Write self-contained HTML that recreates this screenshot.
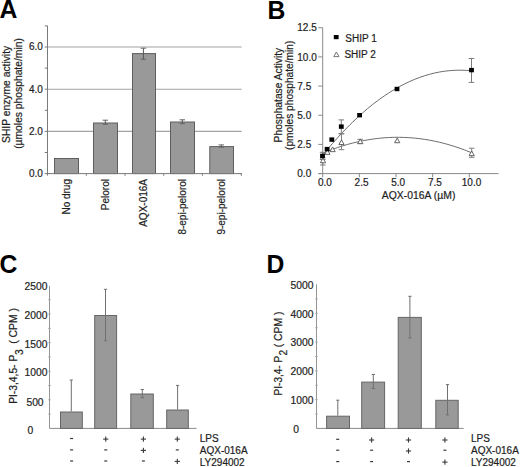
<!DOCTYPE html>
<html><head><meta charset="utf-8"><style>
html,body{margin:0;padding:0;background:#fff;width:520px;height:467px;overflow:hidden}
svg{display:block;font-family:"Liberation Sans", sans-serif}
text{stroke:#1e1e1e;stroke-width:0.2px;paint-order:stroke}
text[font-weight=bold]{stroke:none}
</style></head><body>
<svg width="520" height="467" viewBox="0 0 520 467">
<rect width="520" height="467" fill="#fff"/>
<text transform="translate(-0.4,17.8) scale(0.97,1)" font-size="25.5" font-weight="bold" fill="#000">A</text>
<text transform="translate(267.45,18.5) scale(0.97,1)" font-size="25.5" font-weight="bold" fill="#000">B</text>
<text transform="translate(-0.56,272.95) scale(0.97,1)" font-size="25.5" font-weight="bold" fill="#000">C</text>
<text transform="translate(266.55,272.7) scale(0.97,1)" font-size="25.5" font-weight="bold" fill="#000">D</text>
<line x1="47.50" y1="131.40" x2="241.60" y2="131.40" stroke="#a2a2a2" stroke-width="1.1"/>
<line x1="47.50" y1="89.20" x2="241.60" y2="89.20" stroke="#a2a2a2" stroke-width="1.1"/>
<line x1="47.50" y1="47.00" x2="241.60" y2="47.00" stroke="#a2a2a2" stroke-width="1.1"/>
<rect x="54.50" y="158.50" width="24.00" height="15.10" fill="#999999" stroke="#5e5e5e" stroke-width="1"/>
<rect x="93.50" y="123.00" width="24.00" height="50.60" fill="#999999" stroke="#5e5e5e" stroke-width="1"/>
<rect x="132.50" y="53.60" width="23.00" height="120.00" fill="#999999" stroke="#5e5e5e" stroke-width="1"/>
<rect x="170.50" y="122.00" width="24.00" height="51.60" fill="#999999" stroke="#5e5e5e" stroke-width="1"/>
<rect x="209.80" y="146.60" width="23.70" height="27.00" fill="#999999" stroke="#5e5e5e" stroke-width="1"/>
<line x1="105.30" y1="120.20" x2="105.30" y2="124.30" stroke="#555" stroke-width="1"/>
<line x1="102.60" y1="120.20" x2="108.00" y2="120.20" stroke="#666" stroke-width="1"/>
<line x1="102.60" y1="124.30" x2="108.00" y2="124.30" stroke="#666" stroke-width="1"/>
<line x1="143.40" y1="48.20" x2="143.40" y2="59.20" stroke="#555" stroke-width="1"/>
<line x1="140.70" y1="48.20" x2="146.10" y2="48.20" stroke="#666" stroke-width="1"/>
<line x1="140.70" y1="59.20" x2="146.10" y2="59.20" stroke="#666" stroke-width="1"/>
<line x1="182.30" y1="119.80" x2="182.30" y2="123.70" stroke="#555" stroke-width="1"/>
<line x1="179.60" y1="119.80" x2="185.00" y2="119.80" stroke="#666" stroke-width="1"/>
<line x1="179.60" y1="123.70" x2="185.00" y2="123.70" stroke="#666" stroke-width="1"/>
<line x1="221.30" y1="144.90" x2="221.30" y2="147.20" stroke="#555" stroke-width="1"/>
<line x1="218.60" y1="144.90" x2="224.00" y2="144.90" stroke="#666" stroke-width="1"/>
<line x1="218.60" y1="147.20" x2="224.00" y2="147.20" stroke="#666" stroke-width="1"/>
<line x1="47.50" y1="25.70" x2="47.50" y2="175.60" stroke="#7a7a7a" stroke-width="1"/>
<line x1="47.50" y1="173.60" x2="242.00" y2="173.60" stroke="#7a7a7a" stroke-width="1"/>
<line x1="44.70" y1="173.60" x2="47.50" y2="173.60" stroke="#7a7a7a" stroke-width="1"/>
<line x1="44.70" y1="152.50" x2="47.50" y2="152.50" stroke="#7a7a7a" stroke-width="1"/>
<line x1="44.70" y1="131.40" x2="47.50" y2="131.40" stroke="#7a7a7a" stroke-width="1"/>
<line x1="44.70" y1="110.30" x2="47.50" y2="110.30" stroke="#7a7a7a" stroke-width="1"/>
<line x1="44.70" y1="89.20" x2="47.50" y2="89.20" stroke="#7a7a7a" stroke-width="1"/>
<line x1="44.70" y1="68.10" x2="47.50" y2="68.10" stroke="#7a7a7a" stroke-width="1"/>
<line x1="44.70" y1="47.00" x2="47.50" y2="47.00" stroke="#7a7a7a" stroke-width="1"/>
<line x1="44.70" y1="25.90" x2="47.50" y2="25.90" stroke="#7a7a7a" stroke-width="1"/>
<line x1="86.30" y1="173.60" x2="86.30" y2="175.80" stroke="#7a7a7a" stroke-width="1"/>
<line x1="125.00" y1="173.60" x2="125.00" y2="175.80" stroke="#7a7a7a" stroke-width="1"/>
<line x1="163.70" y1="173.60" x2="163.70" y2="175.80" stroke="#7a7a7a" stroke-width="1"/>
<line x1="202.40" y1="173.60" x2="202.40" y2="175.80" stroke="#7a7a7a" stroke-width="1"/>
<line x1="241.30" y1="173.60" x2="241.30" y2="175.80" stroke="#7a7a7a" stroke-width="1"/>
<text x="42.90" y="177.00" font-size="10.0" text-anchor="end" font-weight="normal" fill="#1e1e1e" >0.0</text>
<text x="42.90" y="134.80" font-size="10.0" text-anchor="end" font-weight="normal" fill="#1e1e1e" >2.0</text>
<text x="42.90" y="92.60" font-size="10.0" text-anchor="end" font-weight="normal" fill="#1e1e1e" >4.0</text>
<text x="42.90" y="50.40" font-size="10.0" text-anchor="end" font-weight="normal" fill="#1e1e1e" >6.0</text>
<text transform="translate(9.70,94.40) rotate(-90)" x="0" y="0" font-size="10.3" text-anchor="middle" fill="#1e1e1e">SHIP enzyme activity</text>
<text transform="translate(22.30,93.50) rotate(-90)" x="0" y="0" font-size="10.3" text-anchor="middle" fill="#1e1e1e">(µmoles phosphate/min)</text>
<text transform="translate(69.90,179.00) rotate(-90)" x="0" y="0" font-size="10.0" text-anchor="end" fill="#1e1e1e">No drug</text>
<text transform="translate(108.90,179.00) rotate(-90)" x="0" y="0" font-size="10.0" text-anchor="end" fill="#1e1e1e">Pelorol</text>
<text transform="translate(147.40,179.00) rotate(-90)" x="0" y="0" font-size="10.0" text-anchor="end" fill="#1e1e1e">AQX-016A</text>
<text transform="translate(185.90,179.00) rotate(-90)" x="0" y="0" font-size="10.0" text-anchor="end" fill="#1e1e1e">8-epi-pelorol</text>
<text transform="translate(224.90,179.00) rotate(-90)" x="0" y="0" font-size="10.0" text-anchor="end" fill="#1e1e1e">9-epi-pelorol</text>
<line x1="322.70" y1="27.70" x2="322.70" y2="173.60" stroke="#8a8a8a" stroke-width="1"/>
<line x1="318.30" y1="173.60" x2="498.50" y2="173.60" stroke="#8a8a8a" stroke-width="1"/>
<line x1="318.30" y1="173.60" x2="322.70" y2="173.60" stroke="#8a8a8a" stroke-width="1"/>
<line x1="318.30" y1="144.42" x2="322.70" y2="144.42" stroke="#8a8a8a" stroke-width="1"/>
<line x1="318.30" y1="115.25" x2="322.70" y2="115.25" stroke="#8a8a8a" stroke-width="1"/>
<line x1="318.30" y1="86.07" x2="322.70" y2="86.07" stroke="#8a8a8a" stroke-width="1"/>
<line x1="318.30" y1="56.90" x2="322.70" y2="56.90" stroke="#8a8a8a" stroke-width="1"/>
<line x1="318.30" y1="27.72" x2="322.70" y2="27.72" stroke="#8a8a8a" stroke-width="1"/>
<line x1="322.70" y1="173.60" x2="322.70" y2="177.30" stroke="#8a8a8a" stroke-width="1"/>
<line x1="359.35" y1="173.60" x2="359.35" y2="177.30" stroke="#8a8a8a" stroke-width="1"/>
<line x1="396.00" y1="173.60" x2="396.00" y2="177.30" stroke="#8a8a8a" stroke-width="1"/>
<line x1="432.65" y1="173.60" x2="432.65" y2="177.30" stroke="#8a8a8a" stroke-width="1"/>
<line x1="469.30" y1="173.60" x2="469.30" y2="177.30" stroke="#8a8a8a" stroke-width="1"/>
<text x="297.30" y="177.20" font-size="10.0" text-anchor="start" font-weight="normal" fill="#1e1e1e" >0.0</text>
<text x="297.30" y="148.02" font-size="10.0" text-anchor="start" font-weight="normal" fill="#1e1e1e" >2.5</text>
<text x="297.30" y="118.85" font-size="10.0" text-anchor="start" font-weight="normal" fill="#1e1e1e" >5.0</text>
<text x="297.30" y="89.67" font-size="10.0" text-anchor="start" font-weight="normal" fill="#1e1e1e" >7.5</text>
<text x="297.30" y="60.50" font-size="10.0" text-anchor="start" font-weight="normal" fill="#1e1e1e" >10.0</text>
<text x="297.30" y="31.32" font-size="10.0" text-anchor="start" font-weight="normal" fill="#1e1e1e" >12.5</text>
<text x="324.90" y="185.90" font-size="10.0" text-anchor="middle" font-weight="normal" fill="#1e1e1e" >0.0</text>
<text x="361.55" y="185.90" font-size="10.0" text-anchor="middle" font-weight="normal" fill="#1e1e1e" >2.5</text>
<text x="398.20" y="185.90" font-size="10.0" text-anchor="middle" font-weight="normal" fill="#1e1e1e" >5.0</text>
<text x="434.85" y="185.90" font-size="10.0" text-anchor="middle" font-weight="normal" fill="#1e1e1e" >7.5</text>
<text x="471.50" y="185.90" font-size="10.0" text-anchor="middle" font-weight="normal" fill="#1e1e1e" >10.0</text>
<text x="418.60" y="198.70" font-size="10.4" text-anchor="middle" font-weight="normal" fill="#1e1e1e" >AQX-016A (µM)</text>
<text transform="translate(282.00,95.10) rotate(-90)" x="0" y="0" font-size="10.25" text-anchor="middle" fill="#1e1e1e">Phosphatase Activity</text>
<text transform="translate(292.70,95.30) rotate(-90)" x="0" y="0" font-size="10.2" text-anchor="middle" fill="#1e1e1e">(pmoles phosphate/min)</text>
<polyline points="322.70,155.27 325.18,152.21 327.67,149.21 330.15,146.26 332.63,143.37 335.12,140.53 337.60,137.75 340.08,135.03 342.57,132.36 345.05,129.75 347.53,127.20 350.02,124.70 352.50,122.26 354.98,119.87 357.47,117.54 359.95,115.26 362.43,113.05 364.92,110.88 367.40,108.78 369.88,106.72 372.37,104.73 374.85,102.79 377.33,100.91 379.82,99.08 382.30,97.31 384.78,95.60 387.27,93.94 389.75,92.33 392.23,90.79 394.72,89.30 397.20,87.86 399.68,86.48 402.17,85.16 404.65,83.90 407.13,82.68 409.62,81.53 412.10,80.43 414.58,79.39 417.07,78.40 419.55,77.47 422.03,76.60 424.52,75.78 427.00,75.02 429.48,74.31 431.97,73.66 434.45,73.07 436.93,72.53 439.42,72.04 441.90,71.62 444.38,71.25 446.87,70.93 449.35,70.68 451.83,70.47 454.32,70.33 456.80,70.24 459.28,70.20 461.77,70.22 464.25,70.30 466.73,70.44 469.22,70.63 471.70,70.87" fill="none" stroke="#6a6a6a" stroke-width="1"/>
<polyline points="322.70,153.26 325.18,152.23 327.67,151.22 330.15,150.25 332.63,149.32 335.12,148.42 337.60,147.56 340.08,146.73 342.57,145.93 345.05,145.17 347.53,144.45 350.02,143.76 352.50,143.11 354.98,142.49 357.47,141.90 359.95,141.35 362.43,140.84 364.92,140.36 367.40,139.91 369.88,139.50 372.37,139.13 374.85,138.79 377.33,138.49 379.82,138.22 382.30,137.98 384.78,137.78 387.27,137.62 389.75,137.49 392.23,137.39 394.72,137.33 397.20,137.31 399.68,137.32 402.17,137.36 404.65,137.44 407.13,137.56 409.62,137.71 412.10,137.89 414.58,138.11 417.07,138.37 419.55,138.66 422.03,138.98 424.52,139.34 427.00,139.74 429.48,140.17 431.97,140.63 434.45,141.13 436.93,141.67 439.42,142.23 441.90,142.84 444.38,143.48 446.87,144.15 449.35,144.86 451.83,145.61 454.32,146.39 456.80,147.20 459.28,148.05 461.77,148.93 464.25,149.85 466.73,150.81 469.22,151.80 471.70,152.82" fill="none" stroke="#6a6a6a" stroke-width="1"/>
<line x1="471.50" y1="58.50" x2="471.50" y2="82.40" stroke="#7a7a7a" stroke-width="1"/>
<line x1="468.70" y1="58.50" x2="474.30" y2="58.50" stroke="#7a7a7a" stroke-width="1"/>
<line x1="468.70" y1="82.40" x2="474.30" y2="82.40" stroke="#7a7a7a" stroke-width="1"/>
<line x1="341.30" y1="119.90" x2="341.30" y2="133.60" stroke="#7a7a7a" stroke-width="1"/>
<line x1="338.50" y1="119.90" x2="344.10" y2="119.90" stroke="#7a7a7a" stroke-width="1"/>
<line x1="338.50" y1="133.60" x2="344.10" y2="133.60" stroke="#7a7a7a" stroke-width="1"/>
<line x1="322.60" y1="152.30" x2="322.60" y2="159.50" stroke="#7a7a7a" stroke-width="1"/>
<line x1="319.80" y1="152.30" x2="325.40" y2="152.30" stroke="#7a7a7a" stroke-width="1"/>
<line x1="319.80" y1="159.50" x2="325.40" y2="159.50" stroke="#7a7a7a" stroke-width="1"/>
<line x1="341.50" y1="133.90" x2="341.50" y2="149.70" stroke="#808080" stroke-width="1"/>
<line x1="338.70" y1="133.90" x2="344.30" y2="133.90" stroke="#808080" stroke-width="1"/>
<line x1="338.70" y1="149.70" x2="344.30" y2="149.70" stroke="#808080" stroke-width="1"/>
<line x1="471.70" y1="148.20" x2="471.70" y2="157.30" stroke="#808080" stroke-width="1"/>
<line x1="468.90" y1="148.20" x2="474.50" y2="148.20" stroke="#808080" stroke-width="1"/>
<line x1="468.90" y1="157.30" x2="474.50" y2="157.30" stroke="#808080" stroke-width="1"/>
<line x1="322.80" y1="158.00" x2="322.80" y2="165.00" stroke="#808080" stroke-width="1"/>
<line x1="320.00" y1="158.00" x2="325.60" y2="158.00" stroke="#808080" stroke-width="1"/>
<line x1="320.00" y1="165.00" x2="325.60" y2="165.00" stroke="#808080" stroke-width="1"/>
<line x1="360.20" y1="139.30" x2="360.20" y2="143.60" stroke="#808080" stroke-width="1"/>
<line x1="357.40" y1="139.30" x2="363.00" y2="139.30" stroke="#808080" stroke-width="1"/>
<line x1="357.40" y1="143.60" x2="363.00" y2="143.60" stroke="#808080" stroke-width="1"/>
<polygon points="320.40,162.74 325.60,162.74 323.00,158.06" fill="#fff" stroke="#555" stroke-width="0.9"/>
<polygon points="324.80,154.34 330.00,154.34 327.40,149.66" fill="#fff" stroke="#555" stroke-width="0.9"/>
<polygon points="330.00,151.64 335.20,151.64 332.60,146.96" fill="#fff" stroke="#555" stroke-width="0.9"/>
<polygon points="338.90,144.54 344.10,144.54 341.50,139.86" fill="#fff" stroke="#555" stroke-width="0.9"/>
<polygon points="357.60,143.64 362.80,143.64 360.20,138.96" fill="#fff" stroke="#555" stroke-width="0.9"/>
<polygon points="394.60,142.74 399.80,142.74 397.20,138.06" fill="#fff" stroke="#555" stroke-width="0.9"/>
<polygon points="469.10,155.64 474.30,155.64 471.70,150.96" fill="#fff" stroke="#555" stroke-width="0.9"/>
<rect x="320.10" y="153.70" width="4.8" height="4.4" fill="#000"/>
<rect x="324.70" y="146.90" width="4.8" height="4.4" fill="#000"/>
<rect x="329.40" y="137.40" width="4.8" height="4.4" fill="#000"/>
<rect x="338.90" y="124.40" width="4.8" height="4.4" fill="#000"/>
<rect x="357.20" y="113.00" width="4.8" height="4.4" fill="#000"/>
<rect x="394.60" y="86.80" width="4.8" height="4.4" fill="#000"/>
<rect x="469.10" y="67.90" width="4.8" height="4.4" fill="#000"/>
<rect x="333.8" y="35.0" width="4.8" height="4.2" fill="#000"/>
<polygon points="333.80,56.64 339.00,56.64 336.40,51.96" fill="#fff" stroke="#666" stroke-width="0.9"/>
<text x="345.30" y="42.00" font-size="10.0" text-anchor="start" font-weight="normal" fill="#1e1e1e" >SHIP 1</text>
<text x="344.40" y="58.40" font-size="10.0" text-anchor="start" font-weight="normal" fill="#1e1e1e" >SHIP 2</text>
<line x1="49.50" y1="286.00" x2="49.50" y2="428.40" stroke="#959595" stroke-width="1"/>
<line x1="48.30" y1="414.11" x2="50.70" y2="414.11" stroke="#a0a0a0" stroke-width="1"/>
<line x1="48.30" y1="399.82" x2="50.70" y2="399.82" stroke="#a0a0a0" stroke-width="1"/>
<line x1="48.30" y1="385.53" x2="50.70" y2="385.53" stroke="#a0a0a0" stroke-width="1"/>
<line x1="48.30" y1="371.24" x2="50.70" y2="371.24" stroke="#a0a0a0" stroke-width="1"/>
<line x1="48.30" y1="356.95" x2="50.70" y2="356.95" stroke="#a0a0a0" stroke-width="1"/>
<line x1="48.30" y1="342.66" x2="50.70" y2="342.66" stroke="#a0a0a0" stroke-width="1"/>
<line x1="48.30" y1="328.37" x2="50.70" y2="328.37" stroke="#a0a0a0" stroke-width="1"/>
<line x1="48.30" y1="314.08" x2="50.70" y2="314.08" stroke="#a0a0a0" stroke-width="1"/>
<line x1="48.30" y1="299.79" x2="50.70" y2="299.79" stroke="#a0a0a0" stroke-width="1"/>
<line x1="49.50" y1="428.40" x2="196.50" y2="428.40" stroke="#8a8a8a" stroke-width="1"/>
<rect x="60.50" y="412.00" width="21.80" height="16.40" fill="#999999" stroke="#666" stroke-width="1"/>
<rect x="94.70" y="315.50" width="21.90" height="112.90" fill="#999999" stroke="#666" stroke-width="1"/>
<rect x="130.80" y="394.00" width="22.50" height="34.40" fill="#999999" stroke="#666" stroke-width="1"/>
<rect x="166.70" y="410.00" width="21.60" height="18.40" fill="#999999" stroke="#666" stroke-width="1"/>
<line x1="71.30" y1="380.00" x2="71.30" y2="411.50" stroke="#707070" stroke-width="1"/>
<line x1="69.70" y1="380.00" x2="72.90" y2="380.00" stroke="#707070" stroke-width="1"/>
<line x1="105.50" y1="289.30" x2="105.50" y2="340.70" stroke="#707070" stroke-width="1"/>
<line x1="103.90" y1="289.30" x2="107.10" y2="289.30" stroke="#707070" stroke-width="1"/>
<line x1="103.90" y1="340.70" x2="107.10" y2="340.70" stroke="#707070" stroke-width="1"/>
<line x1="142.30" y1="389.50" x2="142.30" y2="397.70" stroke="#707070" stroke-width="1"/>
<line x1="140.70" y1="389.50" x2="143.90" y2="389.50" stroke="#707070" stroke-width="1"/>
<line x1="140.70" y1="397.70" x2="143.90" y2="397.70" stroke="#707070" stroke-width="1"/>
<line x1="177.60" y1="385.40" x2="177.60" y2="409.50" stroke="#707070" stroke-width="1"/>
<line x1="176.00" y1="385.40" x2="179.20" y2="385.40" stroke="#707070" stroke-width="1"/>
<text x="47.40" y="289.50" font-size="10.3" text-anchor="end" font-weight="normal" fill="#1e1e1e" >2500</text>
<text x="47.40" y="318.60" font-size="10.3" text-anchor="end" font-weight="normal" fill="#1e1e1e" >2000</text>
<text x="47.40" y="348.20" font-size="10.3" text-anchor="end" font-weight="normal" fill="#1e1e1e" >1500</text>
<text x="47.40" y="376.10" font-size="10.3" text-anchor="end" font-weight="normal" fill="#1e1e1e" >1000</text>
<text x="43.60" y="405.80" font-size="10.3" text-anchor="end" font-weight="normal" fill="#1e1e1e" >500</text>
<text x="33.30" y="434.00" font-size="10.3" text-anchor="end" font-weight="normal" fill="#1e1e1e" >0</text>
<text transform="translate(17.20,403.84) rotate(-90)" x="0" y="0" font-size="10.27" text-anchor="start" fill="#1e1e1e">PI-3,4,5- P</text>
<text transform="translate(22.90,355.10) rotate(-90)" x="0" y="0" font-size="10.3" text-anchor="start" fill="#1e1e1e">3</text>
<text transform="translate(17.20,343.85) rotate(-90)" x="0" y="0" font-size="10.4" text-anchor="start" fill="#1e1e1e">( CPM )</text>
<rect x="70.10" y="437.90" width="3.0" height="1.2" fill="#3a3a3a"/>
<rect x="103.15" y="438.55" width="5.2" height="1.1" fill="#3a3a3a"/>
<rect x="105.20" y="436.50" width="1.1" height="5.2" fill="#3a3a3a"/>
<rect x="140.80" y="438.55" width="5.2" height="1.1" fill="#3a3a3a"/>
<rect x="142.85" y="436.50" width="1.1" height="5.2" fill="#3a3a3a"/>
<rect x="174.70" y="438.55" width="5.2" height="1.1" fill="#3a3a3a"/>
<rect x="176.75" y="436.50" width="1.1" height="5.2" fill="#3a3a3a"/>
<rect x="70.10" y="449.30" width="3.0" height="1.2" fill="#3a3a3a"/>
<rect x="104.25" y="449.30" width="3.0" height="1.2" fill="#3a3a3a"/>
<rect x="140.80" y="449.85" width="5.2" height="1.1" fill="#3a3a3a"/>
<rect x="142.85" y="447.80" width="1.1" height="5.2" fill="#3a3a3a"/>
<rect x="175.80" y="449.30" width="3.0" height="1.2" fill="#3a3a3a"/>
<rect x="70.10" y="460.40" width="3.0" height="1.2" fill="#3a3a3a"/>
<rect x="104.25" y="460.40" width="3.0" height="1.2" fill="#3a3a3a"/>
<rect x="141.90" y="460.40" width="3.0" height="1.2" fill="#3a3a3a"/>
<rect x="174.70" y="460.85" width="5.2" height="1.1" fill="#3a3a3a"/>
<rect x="176.75" y="458.80" width="1.1" height="5.2" fill="#3a3a3a"/>
<text x="199.80" y="441.70" font-size="10" text-anchor="start" font-weight="normal" fill="#1e1e1e" >LPS</text>
<text x="199.80" y="453.60" font-size="10" text-anchor="start" font-weight="normal" fill="#1e1e1e" >AQX-016A</text>
<text x="199.80" y="465.80" font-size="10" text-anchor="start" font-weight="normal" fill="#1e1e1e" >LY294002</text>
<line x1="316.50" y1="284.30" x2="316.50" y2="428.40" stroke="#959595" stroke-width="1"/>
<line x1="315.30" y1="414.02" x2="317.70" y2="414.02" stroke="#a0a0a0" stroke-width="1"/>
<line x1="315.30" y1="399.64" x2="317.70" y2="399.64" stroke="#a0a0a0" stroke-width="1"/>
<line x1="315.30" y1="385.26" x2="317.70" y2="385.26" stroke="#a0a0a0" stroke-width="1"/>
<line x1="315.30" y1="370.88" x2="317.70" y2="370.88" stroke="#a0a0a0" stroke-width="1"/>
<line x1="315.30" y1="356.50" x2="317.70" y2="356.50" stroke="#a0a0a0" stroke-width="1"/>
<line x1="315.30" y1="342.12" x2="317.70" y2="342.12" stroke="#a0a0a0" stroke-width="1"/>
<line x1="315.30" y1="327.74" x2="317.70" y2="327.74" stroke="#a0a0a0" stroke-width="1"/>
<line x1="315.30" y1="313.36" x2="317.70" y2="313.36" stroke="#a0a0a0" stroke-width="1"/>
<line x1="315.30" y1="298.98" x2="317.70" y2="298.98" stroke="#a0a0a0" stroke-width="1"/>
<line x1="316.50" y1="428.40" x2="463.60" y2="428.40" stroke="#8a8a8a" stroke-width="1"/>
<rect x="326.60" y="416.20" width="22.90" height="12.20" fill="#999999" stroke="#666" stroke-width="1"/>
<rect x="361.70" y="382.10" width="22.90" height="46.30" fill="#999999" stroke="#666" stroke-width="1"/>
<rect x="398.20" y="317.40" width="23.10" height="111.00" fill="#999999" stroke="#666" stroke-width="1"/>
<rect x="435.80" y="400.30" width="22.40" height="28.10" fill="#999999" stroke="#666" stroke-width="1"/>
<line x1="337.80" y1="400.20" x2="337.80" y2="415.70" stroke="#707070" stroke-width="1"/>
<line x1="336.20" y1="400.20" x2="339.40" y2="400.20" stroke="#707070" stroke-width="1"/>
<line x1="373.30" y1="374.50" x2="373.30" y2="388.50" stroke="#707070" stroke-width="1"/>
<line x1="371.70" y1="374.50" x2="374.90" y2="374.50" stroke="#707070" stroke-width="1"/>
<line x1="371.70" y1="388.50" x2="374.90" y2="388.50" stroke="#707070" stroke-width="1"/>
<line x1="409.90" y1="296.30" x2="409.90" y2="338.00" stroke="#707070" stroke-width="1"/>
<line x1="408.30" y1="296.30" x2="411.50" y2="296.30" stroke="#707070" stroke-width="1"/>
<line x1="408.30" y1="338.00" x2="411.50" y2="338.00" stroke="#707070" stroke-width="1"/>
<line x1="447.50" y1="384.60" x2="447.50" y2="414.90" stroke="#707070" stroke-width="1"/>
<line x1="445.90" y1="384.60" x2="449.10" y2="384.60" stroke="#707070" stroke-width="1"/>
<line x1="445.90" y1="414.90" x2="449.10" y2="414.90" stroke="#707070" stroke-width="1"/>
<text x="313.50" y="289.10" font-size="10.3" text-anchor="end" font-weight="normal" fill="#1e1e1e" >5000</text>
<text x="313.50" y="317.90" font-size="10.3" text-anchor="end" font-weight="normal" fill="#1e1e1e" >4000</text>
<text x="313.50" y="346.40" font-size="10.3" text-anchor="end" font-weight="normal" fill="#1e1e1e" >3000</text>
<text x="313.50" y="375.40" font-size="10.3" text-anchor="end" font-weight="normal" fill="#1e1e1e" >2000</text>
<text x="313.50" y="404.10" font-size="10.3" text-anchor="end" font-weight="normal" fill="#1e1e1e" >1000</text>
<text x="299.00" y="432.70" font-size="10.3" text-anchor="end" font-weight="normal" fill="#1e1e1e" >0</text>
<text transform="translate(281.60,395.40) rotate(-90)" x="0" y="0" font-size="10.0" text-anchor="start" fill="#1e1e1e">PI-3,4- P</text>
<text transform="translate(286.60,355.50) rotate(-90)" x="0" y="0" font-size="10.2" text-anchor="start" fill="#1e1e1e">2</text>
<text transform="translate(281.60,347.25) rotate(-90)" x="0" y="0" font-size="10.36" text-anchor="start" fill="#1e1e1e">( CPM )</text>
<rect x="336.20" y="438.70" width="3.0" height="1.2" fill="#3a3a3a"/>
<rect x="369.00" y="439.45" width="5.2" height="1.1" fill="#3a3a3a"/>
<rect x="371.05" y="437.40" width="1.1" height="5.2" fill="#3a3a3a"/>
<rect x="405.90" y="439.45" width="5.2" height="1.1" fill="#3a3a3a"/>
<rect x="407.95" y="437.40" width="1.1" height="5.2" fill="#3a3a3a"/>
<rect x="442.30" y="439.45" width="5.2" height="1.1" fill="#3a3a3a"/>
<rect x="444.35" y="437.40" width="1.1" height="5.2" fill="#3a3a3a"/>
<rect x="336.20" y="449.60" width="3.0" height="1.2" fill="#3a3a3a"/>
<rect x="370.10" y="449.60" width="3.0" height="1.2" fill="#3a3a3a"/>
<rect x="405.90" y="450.45" width="5.2" height="1.1" fill="#3a3a3a"/>
<rect x="407.95" y="448.40" width="1.1" height="5.2" fill="#3a3a3a"/>
<rect x="443.40" y="449.60" width="3.0" height="1.2" fill="#3a3a3a"/>
<rect x="336.20" y="461.00" width="3.0" height="1.2" fill="#3a3a3a"/>
<rect x="370.10" y="461.00" width="3.0" height="1.2" fill="#3a3a3a"/>
<rect x="407.00" y="461.00" width="3.0" height="1.2" fill="#3a3a3a"/>
<rect x="442.30" y="461.55" width="5.2" height="1.1" fill="#3a3a3a"/>
<rect x="444.35" y="459.50" width="1.1" height="5.2" fill="#3a3a3a"/>
<text x="471.00" y="442.10" font-size="10" text-anchor="start" font-weight="normal" fill="#1e1e1e" >LPS</text>
<text x="471.00" y="453.60" font-size="10" text-anchor="start" font-weight="normal" fill="#1e1e1e" >AQX-016A</text>
<text x="471.00" y="466.00" font-size="10" text-anchor="start" font-weight="normal" fill="#1e1e1e" >LY294002</text>
</svg></body></html>
